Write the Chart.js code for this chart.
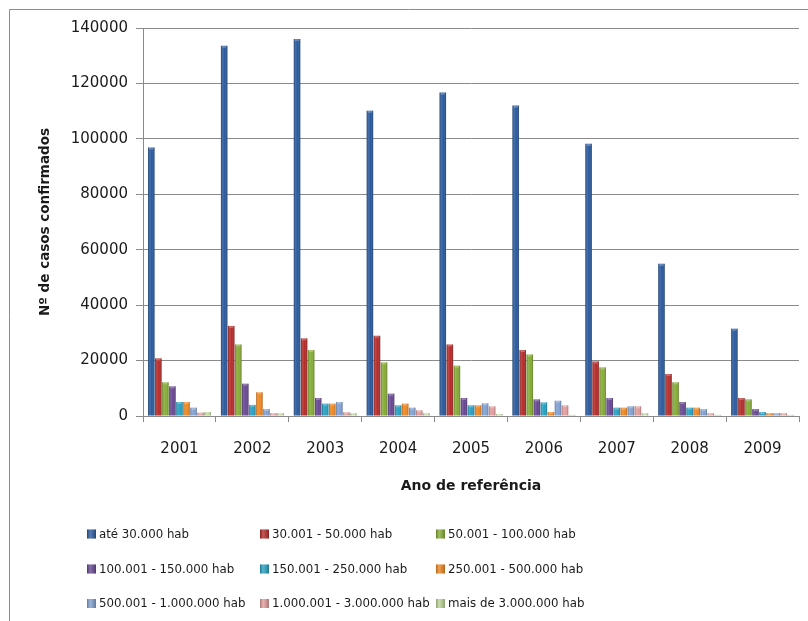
<!DOCTYPE html>
<html>
<head>
<meta charset="utf-8">
<script src="https://cdn.jsdelivr.net/npm/chart.js@4/dist/chart.umd.min.js"></script>
<style>
  html, body { margin: 0; padding: 0; background: #ffffff; }
  #wrap { width: 808px; height: 621px; position: relative; }
</style>
</head>
<body>
<div id="wrap"><canvas id="chart" width="808" height="621"></canvas></div>
<script>
// Casos confirmados por ano e porte populacional do município
const years = ['2001', '2002', '2003', '2004', '2005', '2006', '2007', '2008', '2009'];

const ate30k      = [96900, 133600, 136000, 110100, 116700, 112000, 98200, 54900, 31500];
const de30a50k    = [20800, 32500, 28000, 28950, 25800, 23800, 19700, 15150, 6500];
const de50a100k   = [12150, 25800, 23800, 19350, 18150, 22200, 17550, 12150, 6000];
const de100a150k  = [10700, 11650, 6500, 8050, 6500, 6000, 6500, 5050, 2500];
const de150a250k  = [5050, 4000, 4450, 3850, 3850, 4900, 3000, 3000, 1450];
const de250a500k  = [5050, 8550, 4450, 4450, 3850, 1450, 3000, 3000, 1000];
const de500ka1m   = [3000, 2500, 5050, 3000, 4550, 5500, 3500, 2500, 1000];
const de1ma3m     = [1200, 1000, 1350, 2050, 3500, 3850, 3500, 1000, 1000];
const mais3m      = [1450, 1000, 1000, 1000, 700, 400, 1000, 400, 400];

const seriesNames = [
  'até 30.000 hab',
  '30.001 - 50.000 hab',
  '50.001 - 100.000 hab',
  '100.001 - 150.000 hab',
  '150.001 - 250.000 hab',
  '250.001 - 500.000 hab',
  '500.001 - 1.000.000 hab',
  '1.000.001 - 3.000.000 hab',
  'mais de 3.000.000 hab'
];

const yTickValues = [0, 20000, 40000, 60000, 80000, 100000, 120000, 140000];

const seriesValues = [ate30k, de30a50k, de50a100k, de100a150k, de150a250k,
                      de250a500k, de500ka1m, de1ma3m, mais3m];

// palette
const palette = ['#2a5a9e', '#b52c2a', '#86ac36', '#684893', '#27a1c2',
                 '#ef8721', '#82a1d2', '#e29e9c', '#bed597'];

const GRID = '#8a8a8a';
const TEXT = '#1a1a1a';
const AXIS_FONT = "'DejaVu Sans'";

// cylinder-like shading over every bar and a lighter cap on top
const barShade = {
  id: 'barShade',
  afterDatasetsDraw(chart) {
    const ctx = chart.ctx;
    ctx.save();
    chart.data.datasets.forEach((ds, i) => {
      const meta = chart.getDatasetMeta(i);
      meta.data.forEach(el => {
        const p = el.getProps(['x', 'y', 'base', 'width'], true);
        const left = p.x - p.width / 2;
        const h = p.base - p.y;
        if (h <= 0) return;
        const g = ctx.createLinearGradient(left, 0, left + p.width, 0);
        g.addColorStop(0, 'rgba(0,0,0,0.28)');
        g.addColorStop(0.3, 'rgba(255,255,255,0.12)');
        g.addColorStop(0.6, 'rgba(255,255,255,0.0)');
        g.addColorStop(1, 'rgba(0,0,0,0.30)');
        ctx.fillStyle = g;
        ctx.fillRect(left, p.y, p.width, h);
        ctx.fillStyle = 'rgba(255,255,255,0.25)';
        ctx.fillRect(left + 1, p.y, Math.max(p.width - 2, 0), Math.min(2, h));
      });
    });
    ctx.restore();
  }
};

// outer frame of the chart object
const frame = {
  id: 'frame',
  beforeDraw(chart) {
    const ctx = chart.ctx;
    ctx.save();
    ctx.fillStyle = '#ffffff';
    ctx.fillRect(0, 0, chart.width, chart.height);
    ctx.strokeStyle = '#8c8c8c';
    ctx.lineWidth = 1;
    ctx.beginPath();
    ctx.moveTo(9.5, chart.height);
    ctx.lineTo(9.5, 9.5);
    ctx.lineTo(chart.width, 9.5);
    ctx.stroke();
    ctx.restore();
  }
};

// three-column legend below the axis title
const gridLegend = {
  id: 'gridLegend',
  afterDraw(chart) {
    const ctx = chart.ctx;
    const colX = [87, 260, 436];
    const rowY = [534, 569, 603.5];
    ctx.save();
    ctx.font = "11.8px " + AXIS_FONT;
    ctx.textBaseline = 'middle';
    ctx.textAlign = 'left';
    chart.data.datasets.forEach((ds, i) => {
      const x = colX[i % 3];
      const y = rowY[Math.floor(i / 3)];
      const box = 9;
      ctx.fillStyle = ds.backgroundColor;
      ctx.fillRect(x, y - box / 2, box, box);
      const g = ctx.createLinearGradient(x, 0, x + box, 0);
      g.addColorStop(0, 'rgba(0,0,0,0.25)');
      g.addColorStop(0.35, 'rgba(255,255,255,0.2)');
      g.addColorStop(1, 'rgba(0,0,0,0.25)');
      ctx.fillStyle = g;
      ctx.fillRect(x, y - box / 2, box, box);
      ctx.fillStyle = TEXT;
      ctx.fillText(ds.label, x + 12, y + 0.5);
    });
    ctx.restore();
  }
};

const datasets = seriesNames.map((name, i) => ({
  label: name,
  data: seriesValues[i],
  backgroundColor: palette[i],
  borderWidth: 0,
  categoryPercentage: 0.87,
  barPercentage: 0.92
}));

new Chart(document.getElementById('chart'), {
  type: 'bar',
  data: { labels: years, datasets },
  plugins: [frame, barShade, gridLegend],
  options: {
    responsive: false,
    animation: false,
    devicePixelRatio: 1,
    layout: { padding: { top: 28, right: 9, bottom: 121, left: 0 } },
    plugins: {
      legend: { display: false },
      tooltip: { enabled: false }
    },
    scales: {
      x: {
        offset: true,
        grid: {
          display: true,
          drawOnChartArea: false,
          drawTicks: true,
          tickLength: 6,
          color: GRID,
          tickColor: GRID,
          offset: true
        },
        border: { display: true, color: GRID, width: 1 },
        ticks: {
          color: TEXT,
          font: { family: AXIS_FONT, size: 15 },
          padding: 18,
          maxRotation: 0,
          autoSkip: false
        },
        title: {
          display: true,
          text: 'Ano de referência',
          color: TEXT,
          font: { family: AXIS_FONT, size: 14, weight: 'bold' },
          padding: { top: 0, bottom: 5 }
        },
        afterFit(scale) { scale.height = 84; }
      },
      y: {
        min: 0,
        max: 140000,
        afterBuildTicks(scale) {
          scale.ticks = yTickValues.map(v => ({ value: v }));
        },
        grid: {
          color: GRID,
          tickColor: GRID,
          drawTicks: true,
          tickLength: 7,
          lineWidth: 1
        },
        border: { display: true, color: GRID, width: 1 },
        ticks: {
          color: TEXT,
          font: { family: AXIS_FONT, size: 15 },
          padding: 8,
          callback: v => String(v)
        },
        title: {
          display: true,
          text: 'Nº de casos confirmados',
          color: TEXT,
          font: { family: AXIS_FONT, size: 13.5, weight: 'bold' },
          padding: { top: 37, bottom: 0 }
        },
        afterFit(scale) { scale.width = 143; }
      }
    }
  }
});
</script>
</body>
</html>
